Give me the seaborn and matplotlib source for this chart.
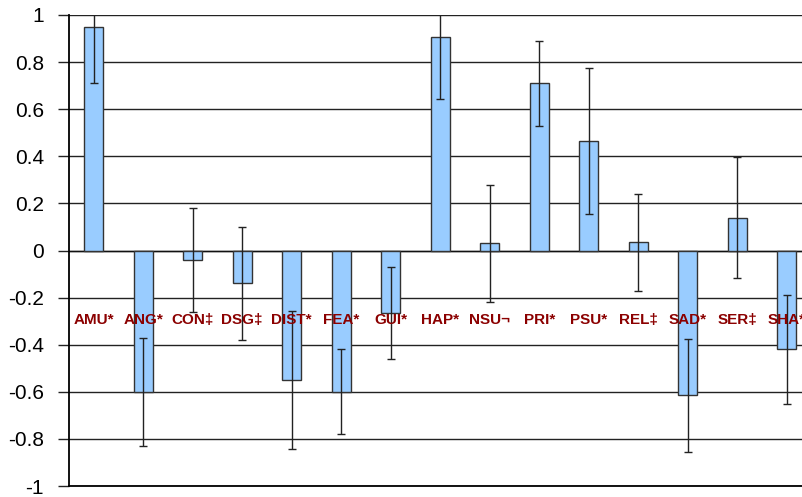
import pandas as pd
import matplotlib
matplotlib.use("Agg")
import matplotlib.pyplot as plt
import seaborn as sns

# Data
categories = ["AMU*", "ANG*", "CON\u2021", "DSG\u2021", "DIST*", "FEA*", "GUI*",
              "HAP*", "NSU\u00ac", "PRI*", "PSU*", "REL\u2021", "SAD*", "SER\u2021", "SHA*"]
values = [0.95, -0.60, -0.04, -0.14, -0.55, -0.60, -0.265,
          0.905, 0.03, 0.71, 0.465, 0.035, -0.615, 0.14, -0.42]
errors = [0.24, 0.23, 0.22, 0.24, 0.295, 0.18, 0.195,
          0.26, 0.25, 0.18, 0.31, 0.205, 0.24, 0.255, 0.23]
label_y = -0.295

df = pd.DataFrame({"cat": categories, "val": values, "err": errors})

sns.set_style("white")
plt.rcParams["font.family"] = ["Liberation Sans", "DejaVu Sans"]

fig = plt.figure(figsize=(8.02, 4.97), dpi=100)
ax = fig.add_axes([69 / 802, 11 / 497, (811.5 - 69) / 802, (486 - 15) / 497])

sns.barplot(data=df, x="cat", y="val", order=categories, color="#99CCFF",
            saturation=1, width=0.39, edgecolor="#333333", linewidth=1.0,
            errorbar=None, ax=ax, zorder=3)

# Error bars
ax.errorbar(range(len(categories)), df["val"], yerr=df["err"], fmt="none",
            ecolor="#222222", elinewidth=1.0, capsize=2.6, capthick=1.0, zorder=4)

# Category labels inside the plot
for i, c in enumerate(categories):
    ax.text(i, label_y, c, ha="center", va="center", color="#8B0000",
            fontsize=11, fontweight="bold", zorder=5)

ax.set_xlim(-0.5, len(categories) - 0.5)
ax.set_ylim(-1, 1)
ax.set_yticks([-1, -0.8, -0.6, -0.4, -0.2, 0, 0.2, 0.4, 0.6, 0.8, 1])
ax.set_yticklabels(["-1", "-0.8", "-0.6", "-0.4", "-0.2", "0", "0.2", "0.4", "0.6", "0.8", "1"])
ax.set_xticks([])
ax.set_xlabel("")
ax.set_ylabel("")

ax.yaxis.grid(True, color="#222222", linewidth=1.0)
ax.set_axisbelow(True)
ax.axhline(0, color="#111111", linewidth=1.0, zorder=2)

for s in ["top", "right"]:
    ax.spines[s].set_visible(False)
for s in ["left", "bottom"]:
    ax.spines[s].set_visible(True)
    ax.spines[s].set_color("black")
    ax.spines[s].set_linewidth(1.3)
    ax.spines[s].set_zorder(10)

ax.tick_params(axis="y", left=True, length=8, width=1.0, color="#222222",
               labelsize=15, labelcolor="black", pad=10)

fig.savefig("out.png", dpi=100)
